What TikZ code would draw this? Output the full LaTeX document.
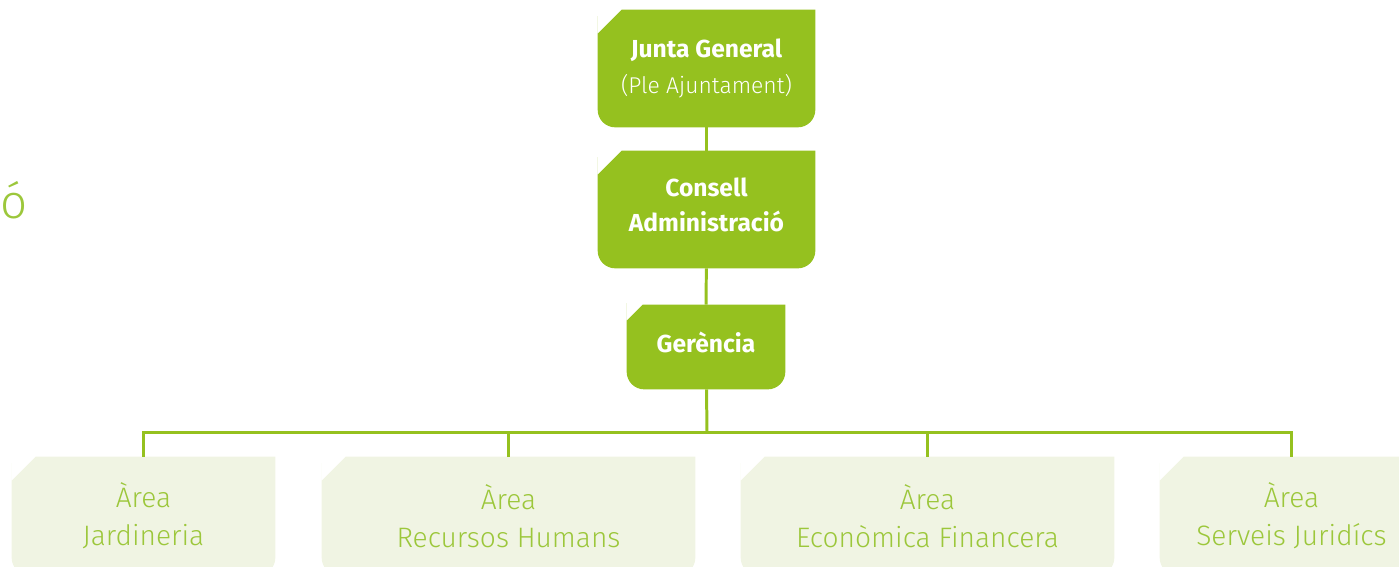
\documentclass[tikz,border=0pt]{standalone}
\usepackage{fontspec}
\setmainfont{Fira Sans}
\newfontfamily\lightfont{Fira Sans Light}
\usetikzlibrary{positioning, calc, backgrounds}

\definecolor{ajgreen}{HTML}{95C11F}
\definecolor{ajpale}{HTML}{F0F4E3}
\definecolor{ajtext}{HTML}{9CC73B}

% box with the top left corner cut off: node, colour, size of the cut
\newcommand{\tagshape}[3]{%
	\fill[#2] ($(#1.north west)+(0,#3)$) -- ($(#1.north west)+(#3,0)$) -- (#1.north east)
	[rounded corners=10] -- (#1.south east) -- (#1.south west) -- ($(#1.north west)+(0,#3)$)
	[sharp corners] -- cycle;}

\begin{document}
\begin{tikzpicture}[
				x=0.02cm, y=-0.02cm,
				topbox/.style={inner sep=0pt, minimum width=4.34cm, minimum height=2.34cm,
					text=white, align=center, font=\bfseries\fontsize{14}{20}\selectfont},
				areabox/.style={inner sep=0pt, minimum height=2.36cm,
					text=ajtext, align=center, font=\lightfont\fontsize{16}{21.5}\selectfont},
				link/.style={draw=ajgreen, line width=1.7pt}]

				\path[use as bounding box, clip] (0,0) rectangle (1399,566);

				\node[anchor=base west, inner sep=0pt, text=ajtext, font=\lightfont\fontsize{27}{27}\selectfont]
					(titol) at (0,218) {ó};

				\node[topbox] (junta) at (706.5,68.5)
					{Junta General\\{\lightfont\mdseries\fontsize{13}{20}\selectfont (Ple Ajuntament)}};
				\node[topbox, text depth=5.6pt] (consell) at (706.5,209.5)
					{Consell\\Administració};
				\node[topbox, text depth=5.6pt, minimum width=3.16cm, minimum height=1.68cm] (gerencia) at (706,347)
					{Gerència};

				\coordinate (bus) at (707,432);

				\node[areabox, minimum width=5.26cm] (jardineria) at (143.5,516) {Àrea\\Jardineria};
				\node[areabox, minimum width=7.46cm] (rrhh) at (508.5,516) {Àrea\\Recursos Humans};
				\node[areabox, minimum width=7.46cm] (economica) at (927.5,516) {Àrea\\Econòmica Financera};
				\node[areabox, minimum width=5.26cm] (juridics) at (1291.5,516) {Àrea\\Serveis Juridícs};

				\begin{scope}[on background layer]
					\tagshape{junta}{ajgreen}{24}
					\tagshape{consell}{ajgreen}{24}
					\tagshape{gerencia}{ajgreen}{16}
					\foreach \n in {jardineria, rrhh, economica, juridics}
						{\tagshape{\n}{ajpale}{24}}
				\end{scope}

				\draw[link] (junta) -- (consell);
				\draw[link] (consell) -- (gerencia);
				\draw[link] (gerencia) -- (bus);
				\foreach \n in {jardineria, rrhh, economica, juridics}
					\draw[link] (bus) -| (\n.north);
\end{tikzpicture}
\end{document}
